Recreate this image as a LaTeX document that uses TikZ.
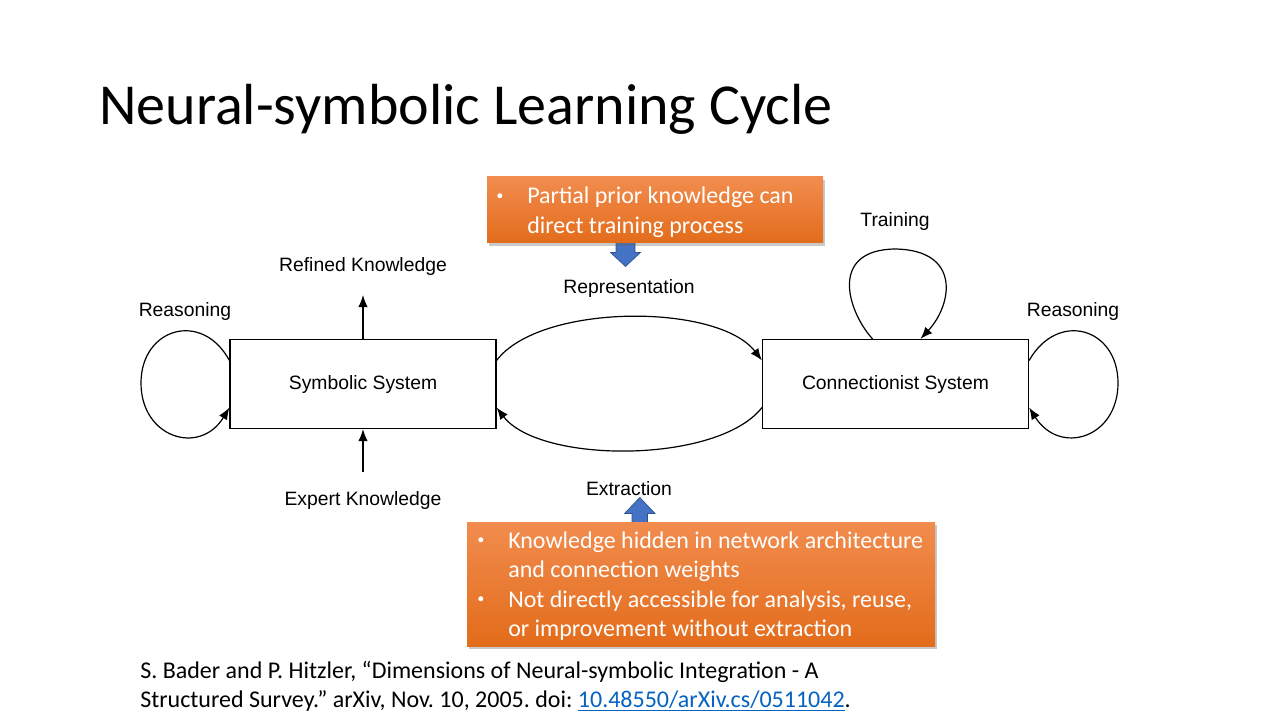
\documentclass[tikz,border=0pt]{standalone}
\usepackage{fontspec}
\setmainfont{Carlito}
\newfontfamily\diagfont{Liberation Sans}
\usetikzlibrary{arrows.meta,shadows}
\frenchspacing

\definecolor{orangetop}{HTML}{F18C4E}
\definecolor{orangebot}{HTML}{E36C1B}
\definecolor{arrowblue}{HTML}{4472C4}
\definecolor{arrowedge}{HTML}{2F528F}
\definecolor{linkblue}{HTML}{0563C1}

\newcommand{\notebullet}{\raisebox{0.5ex}{\tikz\fill[white] (0,0) circle (1.9pt);}}

\tikzset{
  sysbox/.style={draw=black, line width=0.9pt, fill=white, minimum width=199.5pt,
    minimum height=66.75pt, inner sep=0pt, font=\diagfont\fontsize{14.5}{17}\selectfont},
  diaglabel/.style={font=\diagfont\fontsize{14.5}{17}\selectfont, inner sep=0pt},
  flow/.style={line width=0.9pt, -{Latex[length=9pt,width=7pt]}},
  notebox/.style={draw=none, top color=orangetop, bottom color=orangebot, inner sep=0pt,
    drop shadow={shadow xshift=1.5pt, shadow yshift=-2pt, opacity=0.35, fill=black!60}},
  notetext/.style={text=white, inner sep=0pt, anchor=base west,
    font=\fontsize{18}{22}\selectfont},
  bluearrow/.style={fill=arrowblue, draw=arrowedge, line width=0.5pt},
}

\begin{document}
\begin{tikzpicture}[x=0.75pt,y=-0.75pt]
  \useasboundingbox[fill=white] (0,0) rectangle (1280,720);

  % title
  \node[anchor=base west, inner sep=0pt, font=\fontsize{43.5}{50}\selectfont] (title)
    at (99,125) {Neural-symbolic Learning Cycle};

  % the two systems
  \node[sysbox] (sym) at (363,384) {Symbolic System};
  \node[sysbox] (con) at (895.5,384) {Connectionist System};

  % representation and extraction arcs
  \draw[flow] (sym.10) .. controls (540,303) and (718,303) .. (con.170);
  \draw[flow] (con.190) .. controls (718,464) and (540,464) .. (sym.350);
  \node[diaglabel] (rep) at (629,289) {Representation};
  \node[diaglabel] (ext) at (629,489) {Extraction};

  % knowledge in and out of the symbolic system
  \coordinate (refined) at (363,295);
  \coordinate (expert) at (363,472);
  \draw[flow] (sym.north) -- (refined);
  \draw[flow] (expert) -- (sym.south);
  \node[diaglabel] (reflab) at (363,267) {Refined Knowledge};
  \node[diaglabel] (explab) at (363,500) {Expert Knowledge};

  % reasoning loop of the symbolic system
  \draw[flow] (sym.170) .. controls (202,310) and (141,328) .. (141,383)
                        .. controls (141,438) and (200,456) .. (sym.190);
  \node[diaglabel] (reasl) at (185,311) {Reasoning};

  % reasoning loop of the connectionist system
  \draw[flow] (con.10) .. controls (1058,310) and (1118,328) .. (1118,383)
                       .. controls (1118,438) and (1060,456) .. (con.350);
  \node[diaglabel] (reasr) at (1073,311) {Reasoning};

  % training loop
  \draw[flow] (con.117) .. controls (848,312) and (828,250) .. (895,249)
                        .. controls (962,250) and (952,305) .. (con.61);
  \node[diaglabel] (train) at (895,222) {Training};

  % upper note with its arrow
  \draw[bluearrow] (616,234) -- (635,234) -- (635,252.5) -- (640.5,252.5) -- (625.5,266.5)
    -- (610.5,252.5) -- (616,252.5) -- cycle;
  \node[notebox, minimum width=252pt, minimum height=49.5pt] (prior) at (655,210) {};
  \node[notetext] (priorbul) at (497,204) {\notebullet};
  \node[notetext] (priortxt) at (527,204)
    {\begin{tabular}[t]{@{}l@{}}Partial prior knowledge can\\direct training process\end{tabular}};

  % lower note with its arrow
  \draw[bluearrow] (632,528) -- (647.5,528) -- (647.5,513.5) -- (655,513.5) -- (639.8,497.5)
    -- (624.5,513.5) -- (632,513.5) -- cycle;
  \node[notebox, minimum width=351pt, minimum height=93pt] (hidden) at (701,584) {};
  \node[notetext] (hidbul1) at (478,548) {\notebullet};
  \node[notetext] (hidtxt1) at (508,548)
    {\begin{tabular}[t]{@{}l@{}}Knowledge hidden in network architecture\\and connection weights\end{tabular}};
  \node[notetext] (hidbul2) at (478,607) {\notebullet};
  \node[notetext] (hidtxt2) at (508,607)
    {\begin{tabular}[t]{@{}l@{}}Not directly accessible for analysis, reuse,\\or improvement without extraction\end{tabular}};

  % reference
  \node[anchor=base west, inner sep=0pt, font=\fontsize{18}{22}\selectfont] (cite) at (140,678)
    {\begin{tabular}[t]{@{}l@{}}S. Bader and P. Hitzler, “Dimensions of Neural-symbolic Integration - A\\
     Structured Survey.” arXiv, Nov. 10, 2005. doi: {\color{linkblue}\underline{10.48550/arXiv.cs/0511042}}.\end{tabular}};
\end{tikzpicture}
\end{document}
